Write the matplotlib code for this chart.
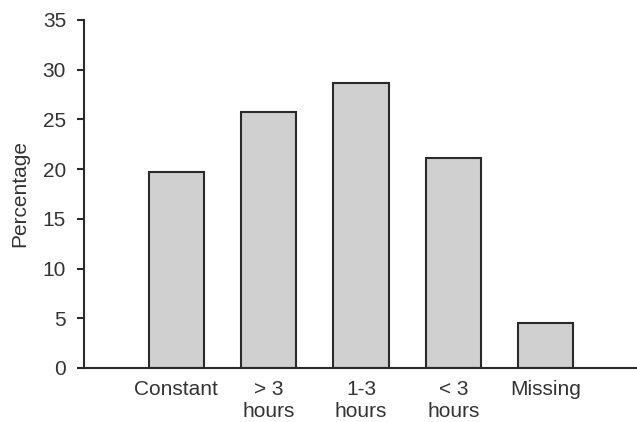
import matplotlib
matplotlib.use("Agg")
import matplotlib.pyplot as plt

# values
categories = ["Constant", "> 3\nhours", "1-3\nhours", "< 3\nhours", "Missing"]
percentages = [19.7, 25.7, 28.7, 21.1, 4.5]
yticks = [0, 5, 10, 15, 20, 25, 30, 35]

plt.rcParams["font.family"] = ["Liberation Sans", "DejaVu Sans"]
textcol = "#333333"

fig = plt.figure(figsize=(6.37, 4.22), dpi=100)
ax = fig.add_axes([0.132, 0.128, 0.868, 0.825])

x = range(len(categories))
ax.bar(x, percentages, width=0.6, color="#d0d0d0", edgecolor="#2a2a2a", linewidth=1.5)

ax.set_xlim(-1.0, 4.99)
ax.set_ylim(0, 35)
ax.set_yticks(yticks)
ax.set_xticks(list(x))
ax.set_xticklabels(categories, fontsize=15, color=textcol, linespacing=1.2)
ax.tick_params(axis="x", length=0, pad=9)
ax.tick_params(axis="y", length=5, width=1.5, color="#2a2a2a", pad=8,
               labelsize=15, labelcolor=textcol)

for side in ["top", "right"]:
    ax.spines[side].set_visible(False)
for side in ["left", "bottom"]:
    ax.spines[side].set_linewidth(1.5)
    ax.spines[side].set_color("#2a2a2a")

ax.set_ylabel("Percentage", fontsize=15, color=textcol)
ax.yaxis.set_label_coords(-0.1, 0.5)

fig.savefig("out.png", dpi=100)
